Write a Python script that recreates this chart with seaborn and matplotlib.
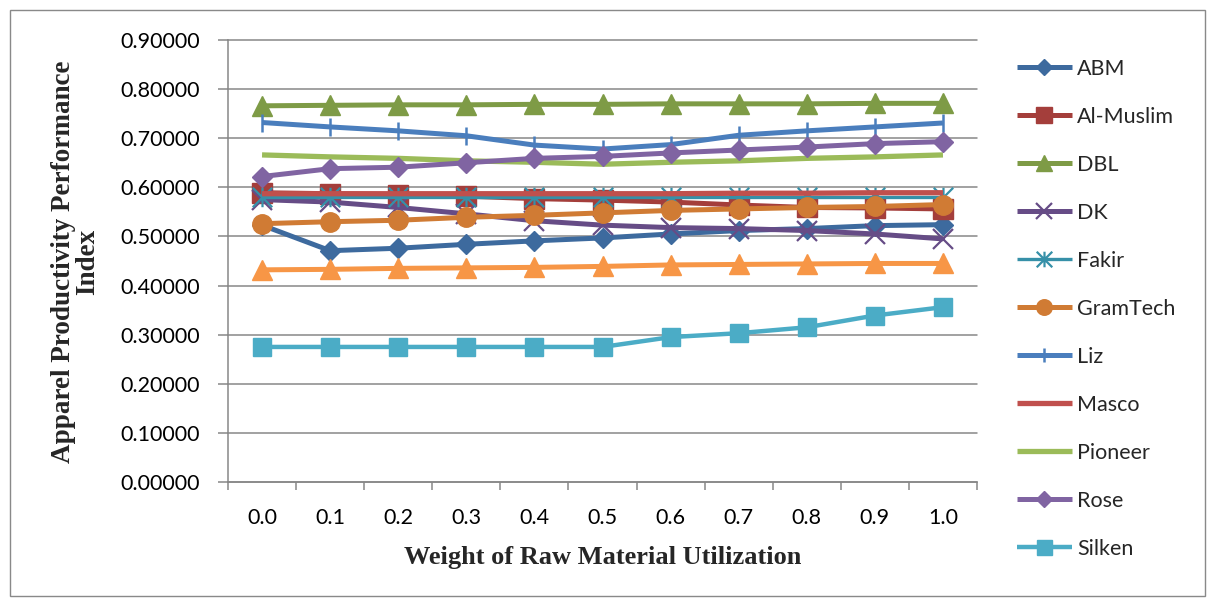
import matplotlib
matplotlib.use("Agg")
import matplotlib.pyplot as plt
import seaborn as sns
import pandas as pd
from matplotlib.path import Path
from matplotlib.patches import Rectangle
from matplotlib.ticker import FixedLocator, FormatStrFormatter, NullFormatter

# ---------------- data ----------------
weights = ["0.0", "0.1", "0.2", "0.3", "0.4", "0.5", "0.6", "0.7", "0.8", "0.9", "1.0"]

abm       = [0.523, 0.471, 0.476, 0.484, 0.491, 0.497, 0.505, 0.512, 0.516, 0.522, 0.524]
al_muslim = [0.589, 0.587, 0.585, 0.582, 0.577, 0.574, 0.570, 0.564, 0.559, 0.558, 0.556]
dbl       = [0.766, 0.767, 0.768, 0.768, 0.769, 0.769, 0.770, 0.770, 0.770, 0.771, 0.771]
dk        = [0.575, 0.570, 0.559, 0.546, 0.532, 0.523, 0.518, 0.516, 0.512, 0.505, 0.495]
fakir     = [0.581, 0.581, 0.581, 0.581, 0.581, 0.581, 0.581, 0.581, 0.581, 0.581, 0.581]
gramtech  = [0.526, 0.530, 0.533, 0.539, 0.543, 0.548, 0.553, 0.556, 0.559, 0.561, 0.565]
liz       = [0.732, 0.723, 0.715, 0.705, 0.686, 0.678, 0.687, 0.706, 0.715, 0.723, 0.731]
masco     = [0.587, 0.587, 0.587, 0.587, 0.587, 0.587, 0.587, 0.588, 0.588, 0.589, 0.589]
pioneer   = [0.666, 0.662, 0.659, 0.654, 0.651, 0.647, 0.651, 0.654, 0.659, 0.662, 0.666]
rose      = [0.622, 0.638, 0.641, 0.650, 0.659, 0.663, 0.670, 0.676, 0.682, 0.689, 0.693]
silken    = [0.275, 0.275, 0.275, 0.275, 0.275, 0.275, 0.295, 0.303, 0.315, 0.339, 0.356]
series12  = [0.432, 0.433, 0.435, 0.436, 0.437, 0.439, 0.442, 0.443, 0.444, 0.445, 0.445]

yticks = [0.0, 0.1, 0.2, 0.3, 0.4, 0.5, 0.6, 0.7, 0.8, 0.9]

# ---------------- styles ----------------
star = Path([(-1, -1), (1, 1), (-1, 1), (1, -1), (0, -1), (0, 1)],
            [Path.MOVETO, Path.LINETO, Path.MOVETO, Path.LINETO, Path.MOVETO, Path.LINETO])

series = [
    ("ABM", abm, "#3D6A9E", "D", 10.5, 1.0, 3.6),
    ("Al-Muslim", al_muslim, "#A43E3B", "s", 14, 1.0, 3.6),
    ("DBL", dbl, "#7E9B46", "^", 14, 1.0, 3.6),
    ("DK", dk, "#664C86", "x", 14, 1.6, 3.6),
    ("Fakir", fakir, "#3690A8", star, 14, 1.6, 2.4),
    ("GramTech", gramtech, "#D07B34", "o", 14, 1.0, 3.6),
    ("Liz", liz, "#4A7EBD", "|", 13, 1.8, 3.6),
    ("Masco", masco, "#C0504D", None, 0, 0, 3.8),
    ("Pioneer", pioneer, "#9BBB59", None, 0, 0, 3.8),
    ("Rose", rose, "#8064A2", "D", 10.5, 1.0, 3.6),
    ("Silken", silken, "#4BACC6", "s", 13.5, 1.0, 3.2),
    ("_nolegend_", series12, "#F79646", "^", 14, 1.0, 3.6),
]

sns.set_theme(style="white")
plt.rcParams["font.family"] = ["Lato", "DejaVu Sans"]

fig = plt.figure(figsize=(12.08, 6.0), dpi=100)
ax = fig.add_axes([228 / 1208, 1 - 482 / 600, (977 - 228) / 1208, (482 - 40) / 600])

grid_c = "#878787"
for y in yticks:
    ax.axhline(y, color=grid_c, lw=1.1, zorder=0.5, clip_on=False)

for i, (name, vals, col, mk, ms, mew, lw) in enumerate(series):
    df = pd.DataFrame({"w": weights, "v": vals})
    kw = dict(color=col, lw=lw, solid_capstyle="butt", zorder=2 + i)
    if mk is not None:
        kw.update(marker=mk, markersize=ms, markeredgewidth=mew,
                  markerfacecolor=col, markeredgecolor=col)
    sns.lineplot(data=df, x="w", y="v", ax=ax, sort=False, label=name,
                 errorbar=None, legend=False, **kw)

ax.set_xlim(-0.5, 10.5)
ax.set_ylim(0, 0.9)
ax.set_yticks(yticks)
ax.yaxis.set_major_formatter(FormatStrFormatter("%.5f"))

# x ticks: labels at categories, tick marks between categories
ax.xaxis.set_minor_locator(FixedLocator([i - 0.5 for i in range(len(weights) + 1)]))
ax.xaxis.set_minor_formatter(NullFormatter())
ax.tick_params(axis="x", which="major", length=0, pad=19, labelsize=15.5, labelcolor="black")
ax.tick_params(axis="x", which="minor", length=6, width=1.1, color=grid_c, direction="out", bottom=True)
ax.tick_params(axis="y", which="major", length=7, width=1.1, color=grid_c, direction="out",
               pad=13, labelsize=15.5, labelcolor="black", left=True)

for s in ["top", "right"]:
    ax.spines[s].set_visible(False)
for s in ["left", "bottom"]:
    ax.spines[s].set_color(grid_c)
    ax.spines[s].set_linewidth(1.1)

ax.set_xlabel("Weight of Raw Material Utilization", fontsize=19, fontweight="bold",
              family=["Liberation Serif", "DejaVu Serif"], va="center")
ax.xaxis.set_label_coords(0.5, -0.170)
ax.set_ylabel("Apparel Productivity Performance\nIndex", fontsize=19.5, fontweight="bold",
              family=["Liberation Serif", "DejaVu Serif"], va="center", linespacing=0.95)
ax.yaxis.set_label_coords(-0.203, 0.498)

handles, labels = ax.get_legend_handles_labels()
pairs = [(h, l) for h, l in zip(handles, labels) if not l.startswith("_")]
fig.legend([p[0] for p in pairs], [p[1] for p in pairs], loc="upper left",
           bbox_to_anchor=(1017 / 1208, 1 - 59 / 600), frameon=False, borderpad=0,
           borderaxespad=0, handlelength=2.55, handletextpad=0.25, labelspacing=1.3,
           fontsize=15.5, markerscale=0.8, numpoints=1)

fig.patches.append(Rectangle((10 / 1208, 4 / 600), 1195 / 1208, 586 / 600,
                             transform=fig.transFigure, fill=False,
                             edgecolor="#898989", lw=1.0))

fig.savefig("out.png", dpi=100)
